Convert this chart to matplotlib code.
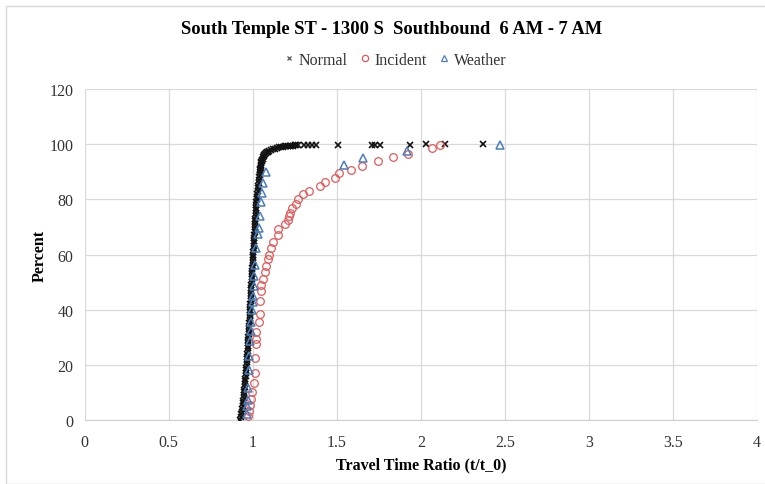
import matplotlib
matplotlib.use("Agg")
import matplotlib.pyplot as plt
from matplotlib.patches import Rectangle
from matplotlib.lines import Line2D

# ---------------- data ----------------
normal_x = [0.925, 0.929, 0.932, 0.935, 0.937, 0.939, 0.941, 0.943, 0.945, 0.947,
            0.948, 0.950, 0.951, 0.953, 0.954, 0.956, 0.957, 0.959, 0.961, 0.962,
            0.963, 0.965, 0.966, 0.967, 0.968, 0.969, 0.970, 0.971, 0.972, 0.973,
            0.974, 0.975, 0.976, 0.977, 0.979, 0.980, 0.981, 0.982, 0.983, 0.983,
            0.984, 0.985, 0.986, 0.987, 0.988, 0.988, 0.989, 0.990, 0.991, 0.992,
            0.993, 0.994, 0.995, 0.996, 0.997, 0.998, 0.999, 1.000, 1.001, 1.002,
            1.003, 1.004, 1.005, 1.006, 1.007, 1.008, 1.009, 1.010, 1.011, 1.012,
            1.013, 1.014, 1.015, 1.016, 1.017, 1.018, 1.019, 1.020, 1.021, 1.022,
            1.024, 1.025, 1.027, 1.029, 1.031, 1.033, 1.035, 1.037, 1.039, 1.041,
            1.043, 1.044, 1.045, 1.046, 1.047, 1.048, 1.049, 1.050, 1.052, 1.055,
            1.058, 1.061, 1.064, 1.068, 1.072, 1.077, 1.083, 1.090, 1.098, 1.108,
            1.120, 1.130, 1.142, 1.155, 1.170, 1.180, 1.190, 1.200, 1.210, 1.220,
            1.230, 1.240, 1.250, 1.260, 1.270,
            1.305, 1.329, 1.355, 1.378, 1.505, 1.710, 1.730, 1.755, 1.935, 2.030,
            2.145, 2.370]
normal_y = [0, 1, 2, 3, 4, 5, 6, 7, 8, 9,
            10, 11, 12, 13, 14, 15, 16, 17, 18, 19,
            20, 21, 22, 23, 24, 25, 26, 27, 28, 29,
            30, 31, 32, 33, 34, 35, 36, 37, 38, 39,
            40, 41, 42, 43, 44, 45, 46, 47, 48, 49,
            50, 51, 52, 53, 54, 55, 56, 57, 58, 59,
            60, 61, 62, 63, 64, 65, 66, 67, 68, 69,
            70, 71, 72, 73, 74, 75, 76, 77, 78, 79,
            80, 81, 82, 83, 84, 85, 86, 87, 88, 89,
            90, 90.5, 91, 91.5, 92, 92.5, 93, 93.5, 94, 94.4,
            94.8, 95.2, 95.6, 96.0, 96.4, 96.7, 97.0, 97.3, 97.6, 97.9,
            98.2, 98.4, 98.6, 98.8, 99.0, 99.1, 99.2, 99.3, 99.35, 99.4,
            99.45, 99.5, 99.52, 99.55, 99.57,
            99.6, 99.63, 99.66, 99.69, 99.72, 99.75, 99.78, 99.82, 99.86, 99.9,
            99.95, 100]

incident_x = [0.972, 0.976, 0.982, 0.988, 0.996, 1.008, 1.012, 1.012, 1.018, 1.022,
              1.022, 1.036, 1.041, 1.041, 1.047, 1.051, 1.061, 1.075, 1.081, 1.091,
              1.095, 1.107, 1.121, 1.151, 1.151, 1.194, 1.209, 1.213, 1.223, 1.233,
              1.259, 1.269, 1.299, 1.337, 1.402, 1.428, 1.490, 1.514, 1.585, 1.649,
              1.744, 1.833, 1.923, 2.069, 2.111]
incident_y = [1.6, 3.4, 5.4, 7.6, 10.0, 13.4, 17.0, 22.4, 27.5, 29.3,
              32.0, 35.4, 38.4, 43.0, 46.9, 49.0, 51.1, 53.7, 55.9, 58.3,
              60.0, 62.3, 64.4, 67.0, 69.2, 71.0, 72.6, 73.8, 75.2, 76.8,
              78.3, 80.1, 81.8, 83.0, 84.7, 86.4, 87.7, 89.4, 90.6, 92.1,
              93.9, 95.2, 96.6, 98.6, 99.8]

weather_x = [0.964, 0.968, 0.974, 0.972, 0.976, 0.976, 0.984, 0.988, 0.992, 0.996,
             1.000, 1.004, 1.006, 1.010, 1.014, 1.020, 1.034, 1.040, 1.044, 1.048,
             1.052, 1.060, 1.081, 1.545, 1.658, 1.920, 2.472]
weather_y = [2.2, 5.0, 7.4, 11.5, 18.2, 23.1, 28.6, 32.2, 35.6, 40.0,
             42.6, 45.0, 48.7, 52.3, 56.2, 62.4, 67.3, 69.7, 73.8, 78.9,
             82.2, 85.9, 90.0, 92.4, 95.1, 97.6, 99.8]

series_names = ["Normal", "Incident", "Weather"]
x_ticks = [0, 0.5, 1, 1.5, 2, 2.5, 3, 3.5, 4]
x_tick_labels = ["0", "0.5", "1", "1.5", "2", "2.5", "3", "3.5", "4"]
y_ticks = [0, 20, 40, 60, 80, 100, 120]

# ---------------- style ----------------
plt.rcParams['font.family'] = ['Liberation Serif', 'DejaVu Serif']
c_normal = "#111111"
c_incident = "#E05A5A"
c_weather = "#4A7EBB"

fig = plt.figure(figsize=(7.65, 4.85), dpi=100)
fig.patches.append(Rectangle((6 / 765, 0), 1, 1 - 7 / 485, transform=fig.transFigure,
                             fill=False, edgecolor="#D9D9D9", linewidth=1.0))

ax = fig.add_axes([84.7 / 765, 64 / 485, (757 - 84.7) / 765, (421 - 90) / 485])

ax.plot(normal_x, normal_y, linestyle="none", marker="x", markersize=4.2,
        markeredgewidth=1.2, color=c_normal, zorder=3)
ax.plot(incident_x, incident_y, linestyle="none", marker="o", markersize=5.5,
        markerfacecolor="none", markeredgewidth=0.9, markeredgecolor=c_incident, zorder=4)
ax.plot(weather_x, weather_y, linestyle="none", marker="^", markersize=6,
        markerfacecolor="none", markeredgewidth=1.1, markeredgecolor=c_weather, zorder=5)

ax.set_xlim(0, 4)
ax.set_ylim(0, 120)
ax.set_xticks(x_ticks)
ax.set_xticklabels(x_tick_labels)
ax.set_yticks(y_ticks)
ax.tick_params(axis="both", length=0, labelsize=11.5, colors="#333333", pad=8)
ax.tick_params(axis="x", pad=10)
ax.grid(True, color="#D9D9D9", linewidth=0.9)
ax.set_axisbelow(True)
for s in ["top", "right", "left"]:
    ax.spines[s].set_visible(False)
ax.spines["bottom"].set_color("#D0D0D0")

ax.set_xlabel("Travel Time Ratio (t/t_0)", fontsize=11.5, fontweight="bold", labelpad=5)
ax.set_ylabel("Percent", fontsize=11.5, fontweight="bold", labelpad=1)

fig.text(0.5, 0.5, "South Temple ST - 1300 S  Southbound  6 AM - 7 AM",
         ha="center", va="center", fontsize=13.3, fontweight="bold")
fig.texts[-1].set_transform(fig.dpi_scale_trans)
fig.texts[-1].set_position((392 / 100, (485 - 30) / 100))

handles = [
    Line2D([], [], linestyle="none", marker="x", markersize=3.5, markeredgewidth=0.9, color="#555555"),
    Line2D([], [], linestyle="none", marker="o", markersize=4.5, markerfacecolor="none",
           markeredgewidth=0.9, markeredgecolor=c_incident),
    Line2D([], [], linestyle="none", marker="^", markersize=4.5, markerfacecolor="none",
           markeredgewidth=0.9, markeredgecolor=c_weather),
]
fig.legend(handles, series_names, loc="center", bbox_to_anchor=(395 / 765, 1 - 61 / 485),
           ncol=3, frameon=False, fontsize=11.5, handlelength=0.6, handletextpad=0.3,
           columnspacing=0.8, labelcolor="#333333")

fig.savefig("out.png", dpi=100)
